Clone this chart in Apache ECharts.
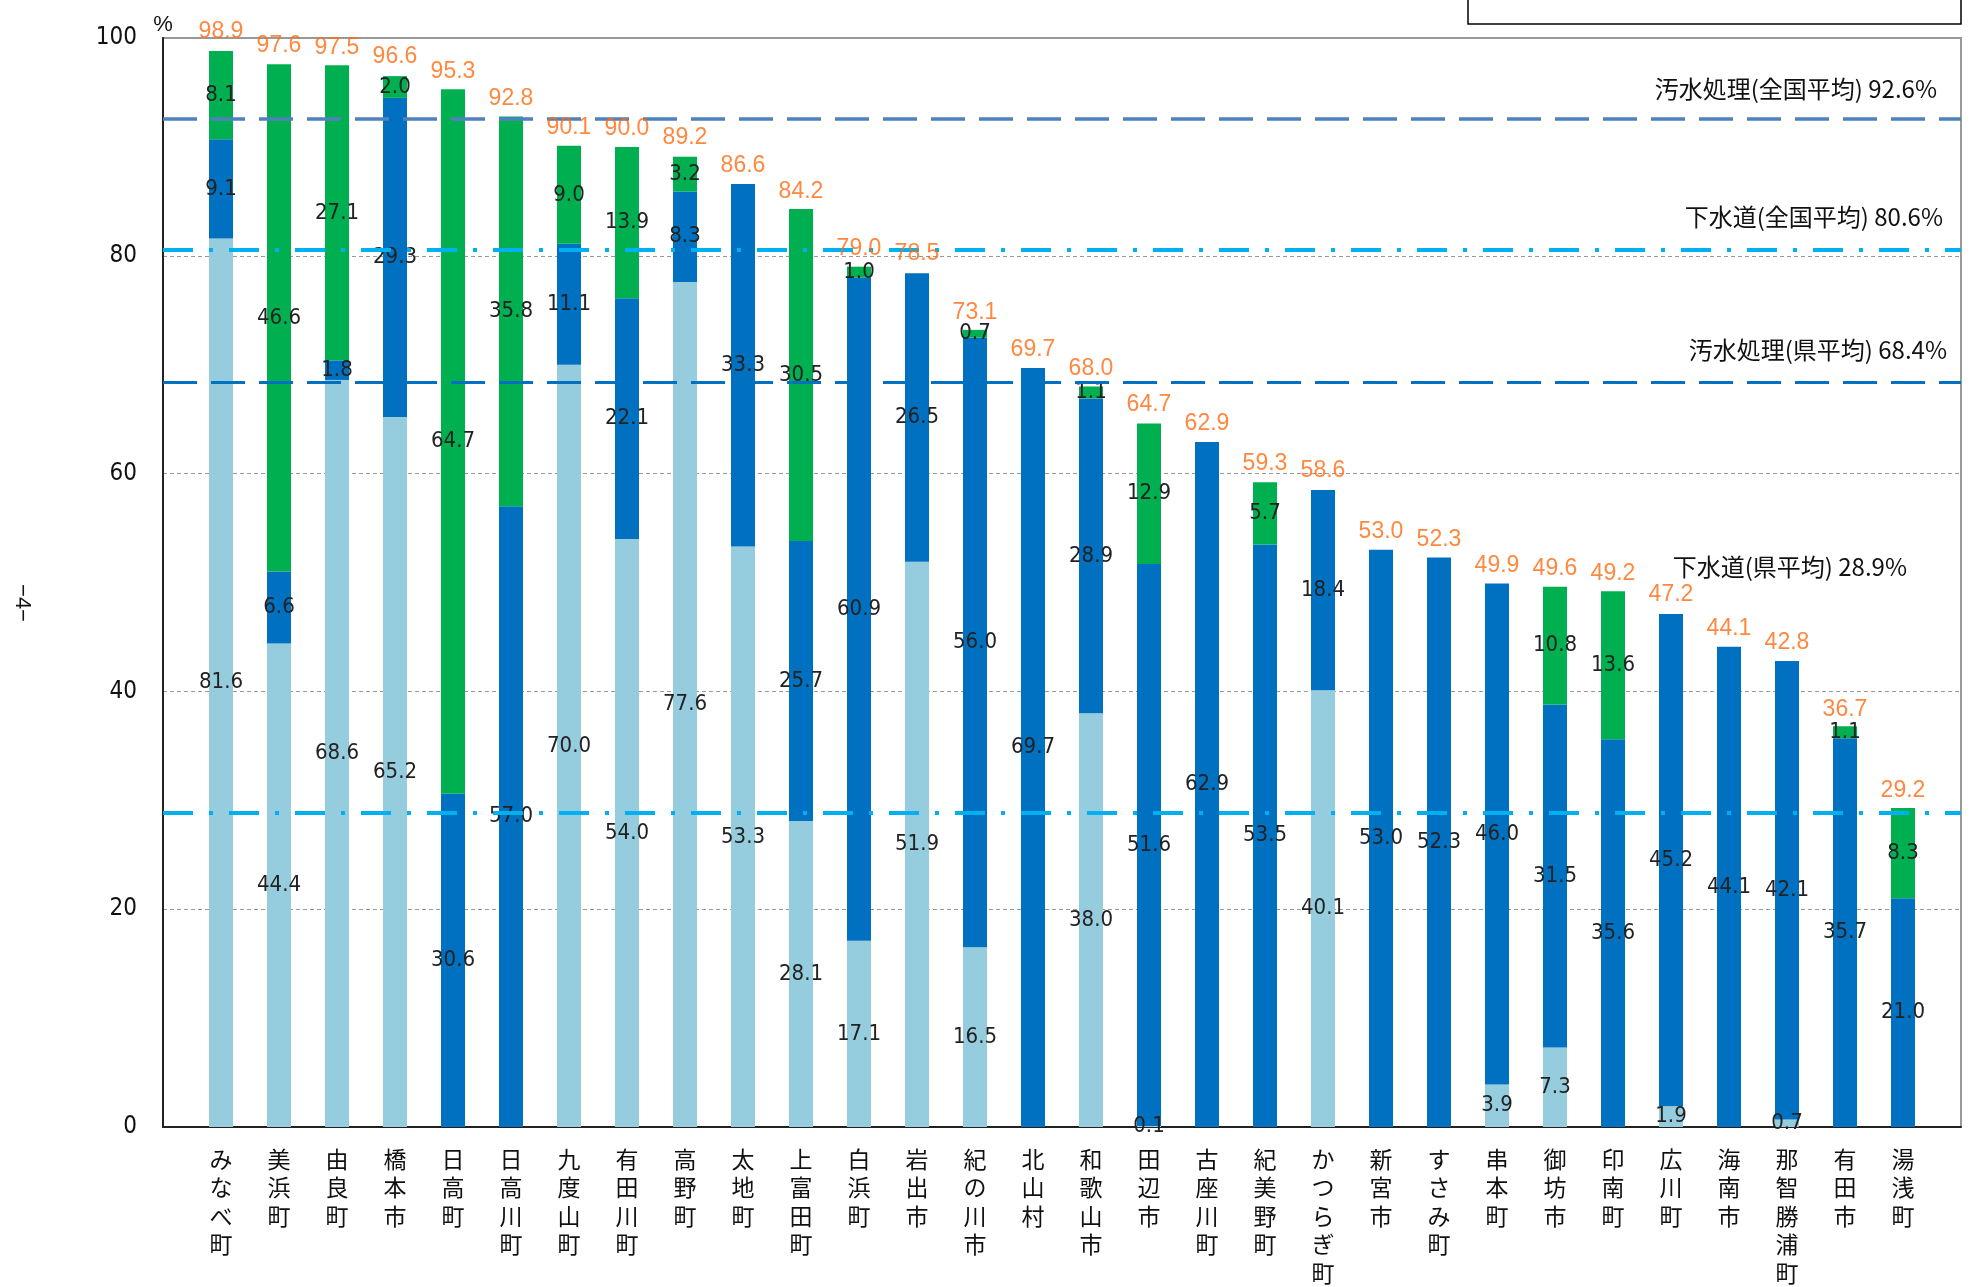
<!DOCTYPE html>
<html><head><meta charset="utf-8">
<script src="https://cdn.jsdelivr.net/npm/echarts@6/dist/echarts.min.js"></script>
<style>html,body{margin:0;padding:0;background:#fff}#c{width:1971px;height:1287px}</style>
</head><body><div id="c"></div>
<script>
const categories = ['みなべ町','美浜町','由良町','橋本市','日高町','日高川町','九度山町','有田川町','高野町','太地町','上富田町','白浜町','岩出市','紀の川市','北山村','和歌山市','田辺市','古座川町','紀美野町','かつらぎ町','新宮市','すさみ町','串本町','御坊市','印南町','広川町','海南市','那智勝浦町','有田市','湯浅町'];
const sewer  = [81.6,44.4,68.6,65.2,0,0,70.0,54.0,77.6,53.3,28.1,17.1,51.9,16.5,0,38.0,0.1,0,0,40.1,0,0,3.9,7.3,0,1.9,0,0.7,0,0];
const septic = [9.1,6.6,1.8,29.3,30.6,57.0,11.1,22.1,8.3,33.3,25.7,60.9,26.5,56.0,69.7,28.9,51.6,62.9,53.5,18.4,53.0,52.3,46.0,31.5,35.6,45.2,44.1,42.1,35.7,21.0];
const rural  = [8.1,46.6,27.1,2.0,64.7,35.8,9.0,13.9,3.2,0,30.5,1.0,0,0.7,0,1.1,12.9,0,5.7,0,0,0,0,10.8,13.6,0,0,0,1.1,8.3];
const totals = [98.9,97.6,97.5,96.6,95.3,92.8,90.1,90.0,89.2,86.6,84.2,79.0,78.5,73.1,69.7,68.0,64.7,62.9,59.3,58.6,53.0,52.3,49.9,49.6,49.2,47.2,44.1,42.8,36.7,29.2];
const yTicks = [0,20,40,60,80,100];
const refNames  = ['汚水処理(全国平均)','下水道(全国平均)','汚水処理(県平均)','下水道(県平均)'];
const refValues = [92.6,80.6,68.4,28.9];

const NARROW = "'Liberation Sans Narrow','DejaVu Sans Condensed',sans-serif";
const SANS = "'Liberation Sans',Arial,sans-serif";
const CJK = "'Noto Sans CJK JP','Noto Sans',sans-serif";

const refStyles = [
  {color:'#4F81BD', width:3.5, type:[34,14], dist:[24,18]},
  {color:'#00B0F0', width:4,   type:[30,16,4,16], dist:[18,20]},
  {color:'#0070C0', width:3,   type:[34,14], dist:[14,20]},
  {color:'#00B0F0', width:4,   type:[30,16,4,16], dist:[54,233]}
];

const chart = echarts.init(document.getElementById('c'), null, {renderer:'canvas'});
const segLabel = {
  show:true, position:'inside', color:'#222', fontSize:22, fontFamily:NARROW,
  formatter: p => p.value ? p.value.toFixed(1) : ''
};
function barSeries(name, arr, color){
  return {
    type:'bar', name, stack:'total', barWidth:24, data:arr,
    xAxisIndex:0, yAxisIndex:0,
    itemStyle:{color}, label:segLabel, silent:true, z:3
  };
}
const yMin = yTicks[0], yMax = yTicks[yTicks.length-1];
const option = {
  animation:false,
  backgroundColor:'#fff',
  grid:[
    {left:192, right:39, top:38, bottom:160, outerBoundsMode:'none', containLabel:false},
    {left:163, right:10, top:38, bottom:160, outerBoundsMode:'none', containLabel:false,
     show:true, borderColor:'#999', borderWidth:2, backgroundColor:'transparent'}
  ],
  xAxis:[
    {
      type:'category', gridIndex:0, data:categories, boundaryGap:true,
      axisLine:{show:false}, axisTick:{show:false}, splitLine:{show:false},
      axisLabel:{
        interval:0, margin:18, fontSize:23, lineHeight:28.5, color:'#111', fontFamily:CJK,
        verticalAlign:'top',
        formatter: v => v.split('').join('\n')
      }
    },
    {
      type:'value', gridIndex:1, min:0, max:1, show:true,
      axisLine:{show:true, onZero:false, lineStyle:{color:'#222', width:2}},
      axisTick:{show:false}, axisLabel:{show:false}, splitLine:{show:false}
    }
  ],
  yAxis:[
    {type:'value', gridIndex:0, min:yMin, max:yMax, interval:20, show:false},
    {
      type:'value', gridIndex:1, min:yMin, max:yMax, interval:20,
      name:'%', nameLocation:'end', nameGap:2,
      nameTextStyle:{fontSize:22, color:'#111', fontFamily:SANS, align:'center'},
      axisLine:{show:true, onZero:false, lineStyle:{color:'#222', width:2}},
      axisTick:{show:false},
      axisLabel:{margin:26, fontSize:24, color:'#111', fontFamily:NARROW},
      splitLine:{show:true, lineStyle:{color:'#999', width:1, type:[4,3]}}
    }
  ],
  series:[
    barSeries('下水道', sewer, '#96CDDE'),
    barSeries('合併処理浄化槽', septic, '#0070C0'),
    barSeries('農業集落排水施設等', rural, '#00B050'),
    {
      type:'scatter', name:'合計', data:totals, symbolSize:1,
      xAxisIndex:0, yAxisIndex:0,
      itemStyle:{color:'rgba(0,0,0,0)'}, silent:true, z:10,
      label:{show:true, position:'top', distance:6, color:'#FF6A10', fontSize:23, fontFamily:SANS,
        formatter: p => p.value.toFixed(1)}
    },
    {
      type:'line', name:'平均', xAxisIndex:1, yAxisIndex:1,
      data:[[0,0],[1,0]], symbol:'none', lineStyle:{opacity:0}, silent:true, z:5,
      markLine:{
        silent:true, symbol:['none','none'], animation:false,
        data: refValues.map((v,i)=>({
          name: refNames[i], yAxis: v,
          lineStyle:{color:refStyles[i].color, width:refStyles[i].width, type:refStyles[i].type},
          label:{show:true, position:'insideEndTop', distance:refStyles[i].dist,
            formatter: refNames[i] + ' ' + v.toFixed(1) + '%',
            color:'#111', fontSize:24, fontFamily:CJK}
        }))
      }
    }
  ],
  graphic:[
    {type:'rect', shape:{x:1468, y:-2, width:493, height:26}, style:{fill:null, stroke:'#000', lineWidth:1.5}, silent:true},
    {type:'text', x:22, y:603, rotation:-Math.PI/2, style:{text:'−4−', fontSize:22, fill:'#111', fontFamily:SANS, align:'center', verticalAlign:'middle'}, silent:true}
  ]
};
chart.setOption(option);
</script>
</body></html>
